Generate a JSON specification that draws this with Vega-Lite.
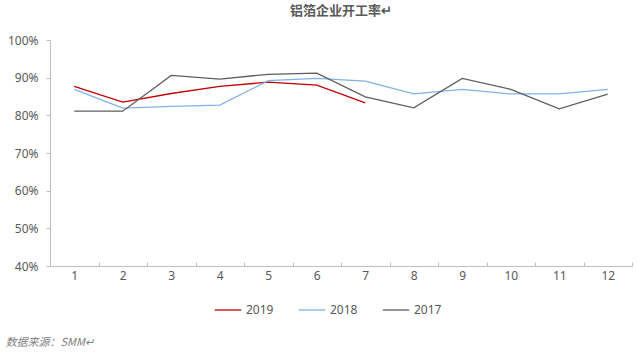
{
  "$schema": "https://vega.github.io/schema/vega-lite/v6.json",
  "width": 582,
  "height": 226,
  "autosize": {"type": "none"},
  "padding": {"left": 50, "top": 40, "right": 6, "bottom": 87},
  "background": "white",
  "title": {
    "text": "铝箔企业开工率↵",
    "font": "Noto Sans CJK SC",
    "fontSize": 13,
    "fontWeight": "bold",
    "color": "#595959",
    "anchor": "middle",
    "offset": 16
  },
  "data": {
    "values": [
      {"month": "1", "year": "2019", "rate": 87.7},
      {"month": "2", "year": "2019", "rate": 83.5},
      {"month": "3", "year": "2019", "rate": 85.8},
      {"month": "4", "year": "2019", "rate": 87.7},
      {"month": "5", "year": "2019", "rate": 88.8},
      {"month": "6", "year": "2019", "rate": 88.0},
      {"month": "7", "year": "2019", "rate": 83.3},
      {"month": "1", "year": "2018", "rate": 86.9},
      {"month": "2", "year": "2018", "rate": 81.9},
      {"month": "3", "year": "2018", "rate": 82.4},
      {"month": "4", "year": "2018", "rate": 82.7},
      {"month": "5", "year": "2018", "rate": 89.2},
      {"month": "6", "year": "2018", "rate": 89.8},
      {"month": "7", "year": "2018", "rate": 89.1},
      {"month": "8", "year": "2018", "rate": 85.7},
      {"month": "9", "year": "2018", "rate": 86.9},
      {"month": "10", "year": "2018", "rate": 85.7},
      {"month": "11", "year": "2018", "rate": 85.7},
      {"month": "12", "year": "2018", "rate": 86.9},
      {"month": "1", "year": "2017", "rate": 81.1},
      {"month": "2", "year": "2017", "rate": 81.1},
      {"month": "3", "year": "2017", "rate": 90.6},
      {"month": "4", "year": "2017", "rate": 89.6},
      {"month": "5", "year": "2017", "rate": 90.9},
      {"month": "6", "year": "2017", "rate": 91.2},
      {"month": "7", "year": "2017", "rate": 84.9},
      {"month": "8", "year": "2017", "rate": 82.0},
      {"month": "9", "year": "2017", "rate": 89.8},
      {"month": "10", "year": "2017", "rate": 86.9},
      {"month": "11", "year": "2017", "rate": 81.7},
      {"month": "12", "year": "2017", "rate": 85.6}
    ]
  },
  "mark": {"type": "line", "strokeWidth": 1.3},
  "encoding": {
    "x": {
      "field": "month",
      "type": "ordinal",
      "sort": ["1","2","3","4","5","6","7","8","9","10","11","12"],
      "scale": {"type": "band", "paddingInner": 0, "paddingOuter": 0},
      "axis": {
        "title": "数据来源：SMM↵",
        "titleFont": "Noto Sans CJK SC",
        "titleFontSize": 11,
        "titleFontWeight": "normal",
        "titleFontStyle": "italic",
        "titleColor": "#7F7F7F",
        "titleAnchor": "start",
        "titleAlign": "left",
        "titleBaseline": "middle",
        "titleX": -45,
        "titleY": 76,
        "labelAngle": 0,
        "labelFont": "Noto Sans",
        "labelFontSize": 12,
        "labelColor": "#595959",
        "labelPadding": 8,
        "domainColor": "#BFBFBF",
        "tickColor": "#BFBFBF",
        "tickBand": "extent",
        "tickSize": -4,
        "grid": false
      }
    },
    "y": {
      "field": "rate",
      "type": "quantitative",
      "scale": {"domain": [40, 100], "nice": false, "zero": false},
      "axis": {
        "title": null,
        "values": [40, 50, 60, 70, 80, 90, 100],
        "labelExpr": "datum.value + '%'",
        "labelFont": "Noto Sans",
        "labelFontSize": 12,
        "labelColor": "#595959",
        "labelPadding": 8,
        "domainColor": "#BFBFBF",
        "tickColor": "#BFBFBF",
        "tickSize": 4,
        "grid": false
      }
    },
    "color": {
      "field": "year",
      "type": "nominal",
      "scale": {"domain": ["2019", "2018", "2017"], "range": ["#C00000", "#7FB2EA", "#5E5E5E"]},
      "legend": {
        "title": null,
        "orient": "none",
        "direction": "horizontal",
        "legendX": 164,
        "legendY": 256,
        "symbolType": "stroke",
        "symbolSize": 700,
        "symbolStrokeWidth": 1.3,
        "labelFont": "Noto Sans",
        "labelFontSize": 12,
        "labelColor": "#595959",
        "labelOffset": 4,
        "columnPadding": 22
      }
    }
  },
  "config": {"view": {"stroke": null}}
}
